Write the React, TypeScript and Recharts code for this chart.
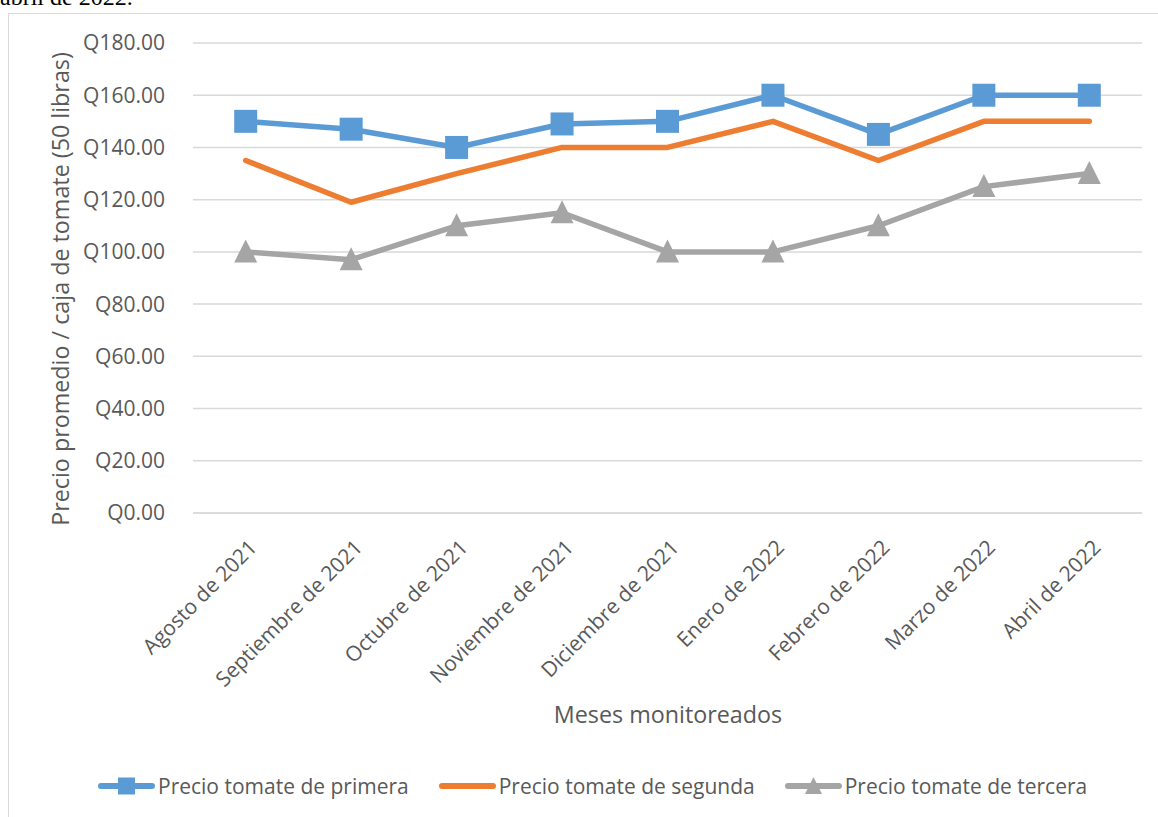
import React from 'react';
import { LineChart, Line, XAxis, YAxis, CartesianGrid } from 'recharts';

const months = [
  'Agosto de 2021',
  'Septiembre de 2021',
  'Octubre de 2021',
  'Noviembre de 2021',
  'Diciembre de 2021',
  'Enero de 2022',
  'Febrero de 2022',
  'Marzo de 2022',
  'Abril de 2022',
];
const primera = [150, 147, 140, 149, 150, 160, 145, 160, 160];
const segunda = [135, 119, 130, 140, 140, 150, 135, 150, 150];
const tercera = [100, 97, 110, 115, 100, 100, 110, 125, 130];
const yTicks = [0, 20, 40, 60, 80, 100, 120, 140, 160, 180];
const seriesNames = ['Precio tomate de primera', 'Precio tomate de segunda', 'Precio tomate de tercera'];
const seriesKeys = ['primera', 'segunda', 'tercera'];
const seriesColors = ['#5B9BD5', '#ED7D31', '#A5A5A5'];
const seriesMarkers = ['square', 'none', 'triangle'];
const yTitle = 'Precio promedio / caja de tomate (50 libras)';
const xTitle = 'Meses monitoreados';
const captionTail = 'abril de 2022.';

const data = months.map((m, i) => ({
  month: m,
  primera: primera[i],
  segunda: segunda[i],
  tercera: tercera[i],
}));

const FONT = '"Open Sans", "Noto Sans", sans-serif';
const TEXT = '#595959';

const renderMarker = (kind: string, color: string) => (props: any) => {
  const { cx, cy, index } = props;
  if (cx == null || cy == null) return <g key={`e-${index}`} />;
  if (kind === 'square') {
    return <rect key={`s-${index}`} x={cx - 11.5} y={cy - 11.5} width={23} height={23} fill={color} />;
  }
  if (kind === 'triangle') {
    return (
      <polygon
        key={`t-${index}`}
        points={`${cx},${cy - 12.5} ${cx + 11.5},${cy + 10.5} ${cx - 11.5},${cy + 10.5}`}
        fill={color}
      />
    );
  }
  return <g key={`n-${index}`} />;
};

const XTick = (props: any) => {
  const { x, y, payload } = props;
  return (
    <g transform={`translate(${x + 7},${y + 22})`}>
      <text
        textAnchor="end"
        dominantBaseline="central"
        transform="rotate(-45)"
        fontSize={21}
        fontFamily={FONT}
        fill={TEXT}
      >
        {payload.value}
      </text>
    </g>
  );
};

const YTitle = () => (
  <text
    x={60}
    y={289}
    transform="rotate(-90 60 289)"
    textAnchor="middle"
    dominantBaseline="central"
    fontSize={23.3}
    fontFamily={FONT}
    fill={TEXT}
  >
    {yTitle}
  </text>
);

const XTitle = () => (
  <text
    x={668}
    y={714}
    textAnchor="middle"
    dominantBaseline="central"
    fontSize={23.3}
    fontFamily={FONT}
    fill={TEXT}
  >
    {xTitle}
  </text>
);

const LegendIcon = ({ color, marker }: { color: string; marker: string }) => (
  <svg width={57} height={24} style={{ display: 'block' }}>
    <line x1={3} y1={12} x2={54} y2={12} stroke={color} strokeWidth={6} strokeLinecap="round" />
    {marker === 'square' && <rect x={20} y={3.5} width={17} height={17} fill={color} />}
    {marker === 'triangle' && <polygon points="28.5,3 37,20 20,20" fill={color} />}
  </svg>
);

export default function App() {
  return (
    <div
      style={{
        position: 'fixed',
        left: 0,
        top: 0,
        width: 1158,
        height: 817,
        overflow: 'hidden',
        background: '#fff',
      }}
    >
      <svg width={300} height={14} style={{ position: 'absolute', left: 0, top: 0 }}>
        <text x={0} y={5} fontSize={24} fontFamily='"Liberation Serif", "Times New Roman", serif' fill="#000">
          {captionTail}
        </text>
      </svg>
      <div
        style={{
          position: 'absolute',
          left: 8,
          top: 13,
          width: 1300,
          height: 900,
          border: '1.5px solid #D9D9D9',
          boxSizing: 'border-box',
        }}
      />
      <div style={{ position: 'absolute', left: 0, top: 0 }}>
        <LineChart width={1158} height={817} data={data} margin={{ top: 43, right: 16, bottom: 84, left: 8 }}>
          <CartesianGrid vertical={false} stroke="#D9D9D9" strokeWidth={1.5} />
          <XAxis
            dataKey="month"
            interval={0}
            height={220}
            tickLine={false}
            axisLine={{ stroke: '#D9D9D9', strokeWidth: 1.5 }}
            padding={{ left: 52.7, right: 52.7 }}
            tick={<XTick />}
            label={<XTitle />}
          />
          <YAxis
            width={185}
            domain={[0, 180]}
            ticks={yTicks}
            interval={0}
            axisLine={false}
            tickLine={false}
            tickMargin={22}
            tickFormatter={(v: number) => `Q${v.toFixed(2)}`}
            tick={{ fontSize: 21, fontFamily: FONT, fill: TEXT }}
            label={<YTitle />}
          />
          {seriesKeys.map((k, i) => (
            <Line
              key={k}
              dataKey={k}
              name={seriesNames[i]}
              stroke={seriesColors[i]}
              strokeWidth={5.5}
              strokeLinecap="round"
              strokeLinejoin="round"
              dot={renderMarker(seriesMarkers[i], seriesColors[i])}
              activeDot={false}
              isAnimationActive={false}
            />
          ))}
        </LineChart>
      </div>
      <div
        style={{
          position: 'absolute',
          left: 98,
          top: 773,
          display: 'flex',
          alignItems: 'center',
          fontFamily: FONT,
          fontSize: 21,
          color: TEXT,
          whiteSpace: 'nowrap',
        }}
      >
        {seriesNames.map((n, i) => (
          <div key={n} style={{ display: 'flex', alignItems: 'center', marginRight: 30 }}>
            <LegendIcon color={seriesColors[i]} marker={seriesMarkers[i]} />
            <span style={{ marginLeft: 3, lineHeight: '26px' }}>{n}</span>
          </div>
        ))}
      </div>
    </div>
  );
}
